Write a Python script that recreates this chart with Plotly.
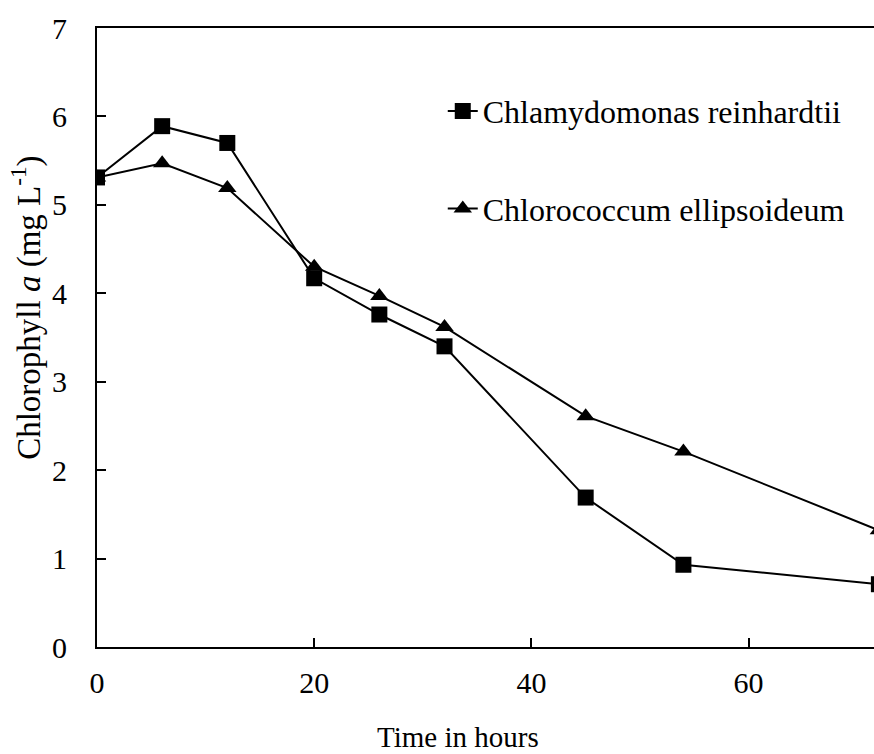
import plotly.graph_objects as go

# Sampling times (hours)
hours = [0, 6, 12, 20, 26, 32, 45, 54, 72]

# Chlorophyll a concentration (mg/L)
chlamydomonas = [5.31, 5.89, 5.70, 4.17, 3.76, 3.40, 1.69, 0.93, 0.71]
chlorococcum = [5.31, 5.47, 5.19, 4.30, 3.97, 3.62, 2.61, 2.21, 1.32]

series_names = ["Chlamydomonas reinhardtii", "Chlorococcum ellipsoideum"]
x_ticks = [0, 20, 40, 60]
y_ticks = [0, 1, 2, 3, 4, 5, 6, 7]

FONT = "Liberation Serif"

fig = go.Figure()
fig.add_trace(go.Scatter(
    x=hours, y=chlamydomonas, name=series_names[0], mode="lines+markers",
    line=dict(color="black", width=2),
    marker=dict(symbol="square", size=16, color="black"),
    legendgroup="a",
))
fig.add_trace(go.Scatter(
    x=hours, y=chlorococcum, name=series_names[1], mode="lines+markers",
    line=dict(color="black", width=2),
    marker=dict(symbol="triangle-up", size=16, color="black"),
    legendgroup="b",
))

fig.update_layout(
    width=874, height=754,
    margin=dict(l=97, r=0, t=28, b=107),
    paper_bgcolor="white", plot_bgcolor="white",
    font=dict(family=FONT, size=30, color="black"),
    showlegend=True,
    legend=dict(
        x=0.445, y=0.910, xanchor="left", yanchor="top",
        bgcolor="rgba(0,0,0,0)", font=dict(family=FONT, size=32),
        traceorder="grouped", tracegroupgap=53,
    ),
    xaxis=dict(
        range=[0, 71.55], tickvals=x_ticks, ticks="inside", ticklen=9,
        tickwidth=2, tickcolor="black", showline=True, linecolor="black",
        linewidth=2, mirror=True, showgrid=False, zeroline=False,
        ticklabelstandoff=8, tickfont=dict(family=FONT, size=30),
    ),
    yaxis=dict(
        range=[0, 7], tickvals=y_ticks, ticks="inside", ticklen=9,
        tickwidth=2, tickcolor="black", showline=True, linecolor="black",
        linewidth=2, showgrid=False, zeroline=False,
        ticklabelstandoff=22, tickfont=dict(family=FONT, size=30),
    ),
    annotations=[
        dict(text="Time in hours", xref="paper", yref="paper",
             x=0.464, y=-0.146, xanchor="center", yanchor="middle",
             showarrow=False, font=dict(family=FONT, size=29)),
        dict(text="Chlorophyll <i>a</i> (mg L<sup>-1</sup>)",
             xref="paper", yref="paper", x=-0.090, y=0.548,
             xanchor="center", yanchor="middle", textangle=-90,
             showarrow=False, font=dict(family=FONT, size=33)),
    ],
)

fig.write_html("out.html")
